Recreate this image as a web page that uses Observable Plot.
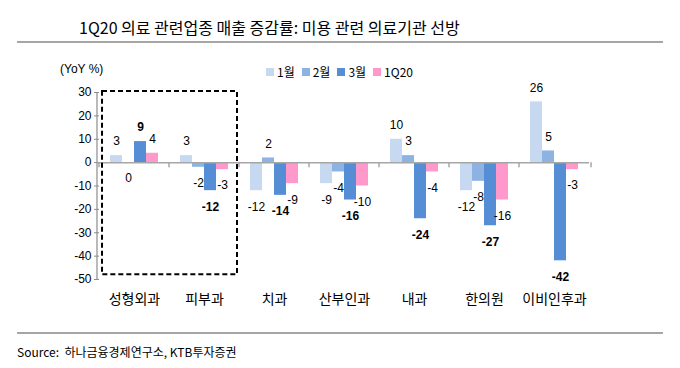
<!DOCTYPE html>
<html><head><meta charset="utf-8">
<script src="https://cdn.jsdelivr.net/npm/d3@7"></script>
<script src="https://cdn.jsdelivr.net/npm/@observablehq/plot@0.6"></script>
<style>
body{margin:0;background:#fff;font-family:"Liberation Sans",Arial,sans-serif;color:#000;}
#wrap{position:relative;width:680px;height:368px;overflow:hidden;background:#fff;}
#title{position:absolute;left:79px;top:16px;font-family:"Noto Sans CJK KR";font-size:16px;line-height:22px;white-space:nowrap;}
.hr{position:absolute;left:17px;width:646px;height:2px;background:#a6a6a6;}
#unit{position:absolute;left:60px;top:62px;font-size:12px;line-height:14px;}
#legend{position:absolute;left:266px;top:64px;display:flex;font-size:12px;line-height:16px;}
#legend .it{display:flex;align-items:center;margin-right:7px;}
#legend .sw{width:8px;height:8px;margin-right:3px;}
#legend .lb{font-family:"Noto Sans CJK KR";}
#chart{position:absolute;left:0;top:56px;}
#source{position:absolute;left:17px;top:344px;font-family:"Noto Sans CJK KR";font-size:12px;line-height:16px;white-space:nowrap;}
</style></head><body>
<div id="wrap">
  <div id="title">1Q20 의료 관련업종 매출 증감률: 미용 관련 의료기관 선방</div>
  <div class="hr" style="top:41px"></div>
  <div id="unit">(YoY %)</div>
  <div id="legend"></div>
  <div id="chart"></div>
  <div class="hr" style="top:332px;height:1.5px"></div>
  <div id="source">Source:&nbsp; 하나금융경제연구소, KTB투자증권</div>
</div>
<script>
const categories = ["성형외과", "피부과", "치과", "산부인과", "내과", "한의원", "이비인후과"];
const seriesNames = ["1월", "2월", "3월", "1Q20"];
const jan = [3, 3, -12, -9, 10, -12, 26];
const feb = [0, -2, 2, -4, 3, -8, 5];
const mar = [9, -12, -14, -16, -24, -27, -42];
const q1 = [4, -3, -9, -10, -4, -16, -3];
const seriesColors = ["#c6d9f1", "#8db3e2", "#558ed5", "#ff99cc"];
const yTicks = [30, 20, 10, 0, -10, -20, -30, -40, -50];
const boxCategories = ["성형외과", "피부과"];
const boxRange = [30, -48];

const seriesValues = [jan, feb, mar, q1];
const data = [];
categories.forEach((c, i) => seriesNames.forEach((s, j) => data.push({cat: c, series: s, value: seriesValues[j][i]})));

// legend
const leg = document.getElementById("legend");
seriesNames.forEach((s, j) => {
  const it = document.createElement("div"); it.className = "it";
  it.innerHTML = `<div class="sw" style="background:${seriesColors[j]}"></div><div class="lb">${s}</div>`;
  leg.appendChild(it);
});

const isBold = d => d.series === "3월";
const labelFont = {fontSize: 12, fontFamily: "Liberation Sans"};
const chart = Plot.plot({
  width: 680, height: 260,
  marginTop: 36, marginBottom: 37, marginLeft: 97, marginRight: 89,
  style: {fontFamily: "Liberation Sans", fontSize: "12px", color: "#000", background: "transparent"},
  fx: {domain: categories, paddingInner: 0, paddingOuter: 0, label: null},
  x: {domain: seriesNames, paddingInner: 0, paddingOuter: 0.7, axis: null},
  y: {domain: [-50, 30], label: null},
  color: {domain: seriesNames, range: seriesColors},
  marks: [
    Plot.barY(data, {fx: "cat", x: "series", y: "value", fill: "series"}),
    Plot.ruleY([0], {stroke: "#a6a6a6", strokeWidth: 1.5}),
    Plot.text(data.filter(d => d.value > 0 && !isBold(d)), {fx: "cat", x: "series", y: "value", text: "value", dy: -14, ...labelFont}),
    Plot.text(data.filter(d => d.value <= 0 && !isBold(d)), {fx: "cat", x: "series", y: "value", text: "value", dy: 16, ...labelFont}),
    Plot.text(data.filter(d => d.value > 0 && isBold(d)), {fx: "cat", x: "series", y: "value", text: "value", dy: -14, fontWeight: "bold", ...labelFont}),
    Plot.text(data.filter(d => d.value <= 0 && isBold(d)), {fx: "cat", x: "series", y: "value", text: "value", dy: 16, fontWeight: "bold", ...labelFont}),
    Plot.axisY({ticks: yTicks, tickFormat: d => String(d), tickSize: 5, tickPadding: 3, stroke: "#8c8c8c", fill: "#000", fontSize: 12}),
    Plot.axisFx({anchor: "bottom", tickSize: 0, tickPadding: 15, fontSize: 14, fontFamily: "Noto Sans CJK KR", label: null})
  ]
});
document.getElementById("chart").appendChild(chart);

// axis line, category boundary ticks and highlight box, all positioned from Plot's scales
const fx = chart.scale("fx"), y = chart.scale("y");
const svg = d3.select(chart);
const x0 = fx.range[0], x1 = fx.range[1];
svg.append("line").attr("x1", x0).attr("x2", x0).attr("y1", y.apply(30)).attr("y2", y.apply(-50))
  .attr("stroke", "#8c8c8c").attr("stroke-width", 1.2);
const bounds = categories.map(c => fx.apply(c)).concat([x1]);
bounds.forEach(b => {
  svg.append("line").attr("x1", b).attr("x2", b).attr("y1", y.apply(0)).attr("y2", y.apply(0) + 5)
    .attr("stroke", "#a6a6a6").attr("stroke-width", 1.5);
});
const bx1 = fx.apply(boxCategories[0]) + 3;
const bx2 = fx.apply(boxCategories[1]) + fx.bandwidth - 2;
svg.append("rect").attr("x", bx1).attr("y", y.apply(boxRange[0]) - 1)
  .attr("width", bx2 - bx1).attr("height", y.apply(boxRange[1]) - y.apply(boxRange[0]) + 1)
  .attr("fill", "none").attr("stroke", "#000").attr("stroke-width", 2).attr("stroke-dasharray", "5,3");
</script>
</body></html>
